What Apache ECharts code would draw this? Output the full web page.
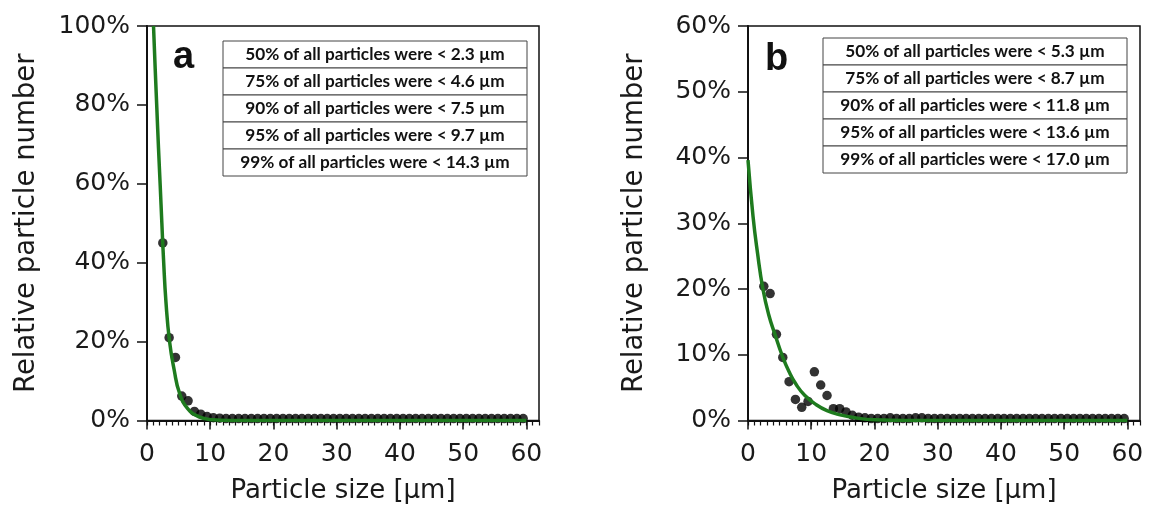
<!DOCTYPE html>
<html>
<head>
<meta charset="utf-8">
<script src="https://cdn.jsdelivr.net/npm/echarts@6/dist/echarts.min.js"></script>
<style>
  html, body { margin: 0; padding: 0; background: #fff; }
  #chart { width: 1151px; height: 510px; }
</style>
</head>
<body>
<div id="chart"></div>
<script>
// Size-bin centres (µm) shared by both distributions
const sizeBins = [2.5, 3.5, 4.5, 5.5, 6.5, 7.5, 8.5, 9.5, 10.5, 11.5,
  12.5, 13.5, 14.5, 15.5, 16.5, 17.5, 18.5, 19.5, 20.5, 21.5,
  22.5, 23.5, 24.5, 25.5, 26.5, 27.5, 28.5, 29.5, 30.5, 31.5,
  32.5, 33.5, 34.5, 35.5, 36.5, 37.5, 38.5, 39.5, 40.5, 41.5,
  42.5, 43.5, 44.5, 45.5, 46.5, 47.5, 48.5, 49.5, 50.5, 51.5,
  52.5, 53.5, 54.5, 55.5, 56.5, 57.5, 58.5, 59.5];

// Relative particle number per bin (%), sample a
const shareA = [45, 21, 16, 6.2, 5.0, 2.3, 1.6, 1.0, 0.7, 0.6,
  0.5, 0.5, 0.5, 0.5, 0.5, 0.5, 0.5, 0.5, 0.5, 0.5,
  0.5, 0.5, 0.5, 0.5, 0.5, 0.5, 0.5, 0.5, 0.5, 0.5,
  0.5, 0.5, 0.5, 0.5, 0.5, 0.5, 0.5, 0.5, 0.5, 0.5,
  0.5, 0.5, 0.5, 0.5, 0.5, 0.5, 0.5, 0.5, 0.5, 0.5,
  0.5, 0.5, 0.5, 0.5, 0.5, 0.5, 0.5, 0.5];

// Relative particle number per bin (%), sample b
const shareB = [20.4, 19.3, 13.1, 9.6, 5.9, 3.2, 2.0, 2.9, 7.4, 5.4,
  3.8, 1.8, 1.8, 1.3, 0.8, 0.5, 0.4, 0.3, 0.3, 0.3,
  0.4, 0.3, 0.3, 0.3, 0.4, 0.4, 0.3, 0.3, 0.3, 0.3,
  0.3, 0.3, 0.3, 0.3, 0.3, 0.3, 0.3, 0.3, 0.3, 0.3,
  0.3, 0.3, 0.3, 0.3, 0.3, 0.3, 0.3, 0.3, 0.3, 0.3,
  0.3, 0.3, 0.3, 0.3, 0.3, 0.3, 0.3, 0.3];

// Fitted decay curves (size µm, %)
const fitAx = [1.03, 1.3, 1.56, 1.82, 2.09, 2.35, 2.61, 3.0, 3.57, 4.3, 5.15, 6.4, 8.15, 10.3, 13, 20, 60];
const fitAy = [100, 89, 79, 69, 59.5, 50, 41, 30, 20, 12.8, 6.9, 3.1, 1.0, 0.2, 0, 0, 0];
const fitBx = [0, 0.8, 1.5, 2.36, 3.3, 4.3, 5.36, 6.5, 7.6, 9, 10.8, 12.5, 14.4, 17, 20, 25, 60];
const fitBy = [39.6, 31, 25.5, 20, 16, 13, 10, 7.4, 5.5, 3.8, 2.4, 1.5, 0.9, 0.4, 0.1, 0, 0];

// Percentile summary tables
const percentiles = [50, 75, 90, 95, 99];
const limitsA = ['2.3', '4.6', '7.5', '9.7', '14.3'];
const limitsB = ['5.3', '8.7', '11.8', '13.6', '17.0'];

// Axis tick labels
const xMajorTicks = [0, 10, 20, 30, 40, 50, 60];
const yTicksA = [0, 20, 40, 60, 80, 100];
const yTicksB = [0, 10, 20, 30, 40, 50, 60];

const FONT = '"DejaVu Sans", "Liberation Sans", Arial, sans-serif';
const chart = echarts.init(document.getElementById('chart'));

function pairs(xs, ys) { return xs.map((x, i) => [x, ys[i]]); }

function majorX(g) {
  return {
    type: 'value', gridIndex: g, position: 'bottom', min: 0, max: 62,
    axisLine: { show: true, onZero: false, lineStyle: { color: '#111', width: 2 } },
    axisTick: { show: true, length: 9, customValues: xMajorTicks, lineStyle: { color: '#111', width: 1.5 } },
    axisLabel: { show: true, customValues: xMajorTicks, margin: 21, fontSize: 25, fontFamily: FONT, color: '#1a1a1a' },
    splitLine: { show: false },
    name: 'Particle size [µm]', nameLocation: 'middle', nameGap: 58,
    nameTextStyle: { fontSize: 26, fontFamily: FONT, color: '#1a1a1a' }
  };
}
function minorX(g) {
  return {
    type: 'value', gridIndex: g, position: 'bottom', min: 0, max: 62, interval: 1,
    axisLine: { show: false, onZero: false },
    axisTick: { show: true, length: 5, lineStyle: { color: '#111', width: 1.2 } },
    axisLabel: { show: false }, splitLine: { show: false }
  };
}
function yAx(g, max, ticks, gap) {
  return {
    type: 'value', gridIndex: g, min: 0, max: max,
    axisLine: { show: true, onZero: false, lineStyle: { color: '#111', width: 2 } },
    axisTick: { show: true, length: 10, customValues: ticks, lineStyle: { color: '#111', width: 1.5 } },
    axisLabel: { customValues: ticks, formatter: '{value}%', margin: 17, fontSize: 25, fontFamily: FONT, color: '#1a1a1a' },
    splitLine: { show: false },
    name: 'Relative particle number', nameLocation: 'middle', nameGap: gap,
    nameTextStyle: { fontSize: 27.5, fontFamily: FONT, color: '#1a1a1a' }
  };
}

function table(left, top, limits) {
  const rowH = 27, w = 304, out = [];
  percentiles.forEach((p, i) => {
    out.push({
      type: 'rect', z: 10,
      shape: { x: left, y: top + i * rowH, width: w, height: rowH },
      style: { fill: '#fff', stroke: '#444', lineWidth: 1 }
    });
    out.push({
      type: 'text', z: 11,
      style: {
        text: p + '% of all particles were < ' + limits[i] + ' µm',
        x: left + w / 2, y: top + i * rowH + rowH / 2,
        align: 'center', verticalAlign: 'middle',
        textAlign: 'center', textVerticalAlign: 'middle',
        font: 'bold 17.2px Lato, "Open Sans", sans-serif', fill: '#111'
      }
    });
  });
  return out;
}

const option = {
  backgroundColor: '#fff',
  animation: false,
  grid: [
    { left: 147, top: 26, width: 392, height: 394.5, show: true, borderColor: '#111', borderWidth: 1.5, containLabel: false },
    { left: 748, top: 26, width: 392, height: 394.5, show: true, borderColor: '#111', borderWidth: 1.5, containLabel: false }
  ],
  xAxis: [majorX(0), minorX(0), majorX(1), minorX(1)],
  yAxis: [yAx(0, 100, yTicksA, 106), yAx(1, 60, yTicksB, 99)],
  series: [
    { type: 'scatter', xAxisIndex: 0, yAxisIndex: 0, data: pairs(sizeBins, shareA),
      symbolSize: 9.5, itemStyle: { color: '#000' }, z: 2 },
    { type: 'line', xAxisIndex: 0, yAxisIndex: 0, data: pairs(fitAx, fitAy),
      showSymbol: false, smooth: 0.5, clip: true,
      lineStyle: { color: '#1e7b1e', width: 3.5 }, z: 3 },
    { type: 'scatter', xAxisIndex: 2, yAxisIndex: 1, data: pairs(sizeBins, shareB),
      symbolSize: 9.5, itemStyle: { color: '#000' }, z: 2 },
    { type: 'line', xAxisIndex: 2, yAxisIndex: 1, data: pairs(fitBx, fitBy),
      showSymbol: false, smooth: 0.5, clip: true,
      lineStyle: { color: '#1e7b1e', width: 3.5 }, z: 3 }
  ],
  graphic: [
    { type: 'text', z: 11, style: { text: 'a', x: 173, y: 58, align: 'left', verticalAlign: 'middle',
      textAlign: 'left', textVerticalAlign: 'middle', font: 'bold 38px "Liberation Sans", Arial, sans-serif', fill: '#111' } },
    { type: 'text', z: 11, style: { text: 'b', x: 765, y: 60, align: 'left', verticalAlign: 'middle',
      textAlign: 'left', textVerticalAlign: 'middle', font: 'bold 38px "Liberation Sans", Arial, sans-serif', fill: '#111' } }
  ].concat(table(223, 41, limitsA), table(823, 38, limitsB))
};

chart.setOption(option);
</script>
</body>
</html>
